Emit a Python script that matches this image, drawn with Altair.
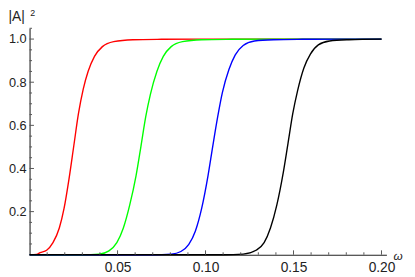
import altair as alt
import pandas as pd

# Curve data (omega, |A|^2)
red_w = [0, 0.004, 0.006, 0.0097, 0.0133, 0.0169, 0.0196, 0.0224, 0.0251, 0.0278, 0.0305, 0.0333, 0.0369, 0.0414, 0.0478, 0.0587, 0.075, 0.1, 0.2]
red_v = [0, 0.002, 0.01, 0.021, 0.056, 0.124, 0.215, 0.351, 0.503, 0.655, 0.768, 0.851, 0.92, 0.965, 0.988, 0.997, 0.999, 1.0, 1.0]

green_w = [0, 0.03, 0.0396, 0.0451, 0.0496, 0.0533, 0.0569, 0.0605, 0.0633, 0.066, 0.0687, 0.0724, 0.076, 0.0805, 0.0869, 0.0978, 0.115, 0.14, 0.2]
green_v = [0, 0, 0.003, 0.018, 0.056, 0.124, 0.23, 0.366, 0.503, 0.639, 0.745, 0.851, 0.92, 0.965, 0.988, 0.997, 0.999, 1.0, 1.0]

blue_w = [0, 0.07, 0.0805, 0.086, 0.0905, 0.0942, 0.0978, 0.1014, 0.1041, 0.1069, 0.1096, 0.1133, 0.1169, 0.1214, 0.1278, 0.1387, 0.155, 0.18, 0.2]
blue_v = [0, 0, 0.003, 0.015, 0.048, 0.109, 0.215, 0.366, 0.503, 0.639, 0.753, 0.859, 0.927, 0.97, 0.991, 0.997, 0.999, 1.0, 1.0]

black_w = [0, 0.11, 0.1214, 0.1287, 0.1333, 0.1369, 0.1405, 0.1442, 0.1469, 0.1496, 0.1523, 0.1559, 0.1596, 0.1641, 0.1705, 0.1814, 0.2]
black_v = [0, 0, 0.003, 0.021, 0.056, 0.124, 0.23, 0.382, 0.518, 0.655, 0.76, 0.866, 0.93, 0.973, 0.991, 0.997, 1.0]

series_names = ["red", "green", "blue", "black"]
series_colors = ["#ff0000", "#00ff00", "#0000ff", "#000000"]

x_major = [0.05, 0.10, 0.15, 0.20]
x_minor = [0.01, 0.02, 0.03, 0.04, 0.06, 0.07, 0.08, 0.09, 0.11, 0.12, 0.13, 0.14, 0.16, 0.17, 0.18, 0.19]
y_major = [0.2, 0.4, 0.6, 0.8, 1.0]
y_minor = [0.05, 0.1, 0.15, 0.25, 0.3, 0.35, 0.45, 0.5, 0.55, 0.65, 0.7, 0.75, 0.85, 0.9, 0.95, 1.05]

X_DOMAIN = [0, 0.2028]
Y_DOMAIN = [0, 1.05]
W, H = 364, 231
LEFT = 22
FONT = "Liberation Sans"

rows = []
for name, ws, vs in zip(series_names, [red_w, green_w, blue_w, black_w], [red_v, green_v, blue_v, black_v]):
    for w, v in zip(ws, vs):
        rows.append({"w": w, "v": v, "s": name})
df = pd.DataFrame(rows)

xs = alt.Scale(domain=X_DOMAIN, nice=False, zero=False)
ys = alt.Scale(domain=Y_DOMAIN, nice=False, zero=False)

x_axis = alt.Axis(values=x_major, format=".2f", title=None, ticks=False,
                  grid=False, domainColor="#222", domainWidth=1.1,
                  labelFont=FONT, labelFontSize=14, labelColor="#222",
                  labelPadding=6, labelFlush=False)
y_axis = alt.Axis(values=y_major, format=".1f", title=None, ticks=False,
                  grid=False, domainColor="#222", domainWidth=1.1,
                  labelFont=FONT, labelFontSize=13, labelColor="#222",
                  labelPadding=3.5, labelFlush=False)

lines = alt.Chart(df).mark_line(interpolate="monotone", strokeWidth=1.4).encode(
    x=alt.X("w:Q", scale=xs, axis=x_axis),
    y=alt.Y("v:Q", scale=ys, axis=y_axis),
    color=alt.Color("s:N", scale=alt.Scale(domain=series_names, range=series_colors), legend=None),
    detail="s:N",
)

def xticks(vals, length):
    return alt.Chart(pd.DataFrame({"t": vals})).mark_rule(color="#555", strokeWidth=1).encode(
        x=alt.X("t:Q", scale=xs, axis=x_axis),
        y=alt.value(H),
        y2=alt.value(H - length),
    )

def yticks(vals, length):
    return alt.Chart(pd.DataFrame({"t": vals})).mark_rule(color="#555", strokeWidth=1).encode(
        y=alt.Y("t:Q", scale=ys, axis=y_axis),
        x=alt.value(0),
        x2=alt.value(length),
    )

one = pd.DataFrame({"a": [0]})
title_a = alt.Chart(one).mark_text(text="|A|", font=FONT, fontSize=14, color="#222",
                                   align="left", baseline="alphabetic").encode(
    x=alt.value(-21.5), y=alt.value(-7))
title_2 = alt.Chart(one).mark_text(text="2", font=FONT, fontSize=9, color="#222",
                                   align="left", baseline="alphabetic").encode(
    x=alt.value(0.7), y=alt.value(-13))
title_w = alt.Chart(one).mark_text(text="ω", font=FONT, fontSize=12, fontStyle="italic", color="#222",
                                   align="center", baseline="alphabetic").encode(
    x=alt.value(376), y=alt.value(236.3))

chart = alt.layer(
    lines, xticks(x_minor, 2.5), xticks(x_major, 4.5), yticks(y_minor, 2.5), yticks(y_major, 4.5),
    title_a, title_2, title_w,
).resolve_scale(x="shared", y="shared").properties(
    width=W, height=H,
    autosize=alt.AutoSizeParams(type="none"),
    padding={"left": LEFT, "top": 18, "right": 407 - LEFT - W, "bottom": 20},
).configure_view(stroke=None).configure_axis(zindex=0)

chart.save("out.html", embed_options={"renderer": "svg", "actions": False})
